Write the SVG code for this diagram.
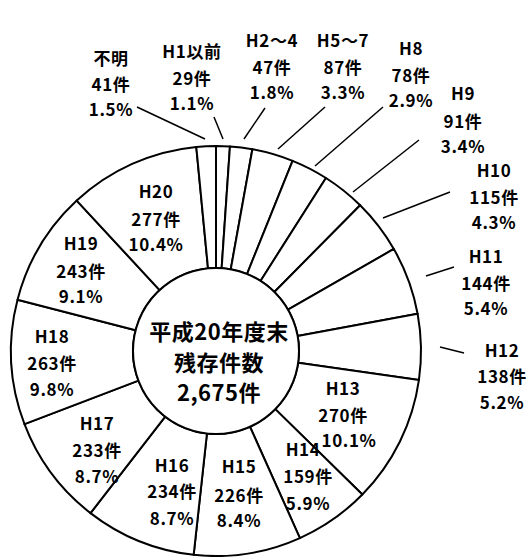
<svg xmlns="http://www.w3.org/2000/svg" width="530" height="557" viewBox="0 0 530 557">
<style>
.seg{fill:#fff;stroke:#000;stroke-width:2;stroke-linejoin:round}
.hub{fill:#fff;stroke:#000;stroke-width:2}
.lead{stroke:#000;stroke-width:1.5;fill:none}
text{font-family:"Noto Sans CJK JP","Noto Sans",sans-serif;font-weight:bold;font-size:17px;fill:#000;text-anchor:middle;letter-spacing:0.6px}
.ctr{font-size:22px;font-weight:bold;letter-spacing:0.5px}
</style>
<rect width="530" height="557" fill="#fff"/>
<g id="h1">
<path class="seg" d="M216,146 A205,205 0 0 1 229.95,146.48 L221.65,268.19 A83,83 0 0 0 216,268 Z"/>
<text x="192" y="58">H1以前</text><text x="192" y="85">29件</text><text x="192" y="110">1.1%</text>
</g>
<g id="h2-4">
<path class="seg" d="M229.95,146.48 A205,205 0 0 1 252.40,149.26 L230.74,269.32 A83,83 0 0 0 221.65,268.19 Z"/>
<text x="272" y="47">H2〜4</text><text x="272" y="74">47件</text><text x="272" y="99">1.8%</text>
</g>
<g id="h5-7">
<path class="seg" d="M252.40,149.26 A205,205 0 0 1 292.58,160.84 L247.01,274.01 A83,83 0 0 0 230.74,269.32 Z"/>
<text x="343" y="47">H5〜7</text><text x="343" y="74">87件</text><text x="343" y="99">3.3%</text>
</g>
<g id="h8">
<path class="seg" d="M292.58,160.84 A205,205 0 0 1 325.95,177.97 L260.52,280.94 A83,83 0 0 0 247.01,274.01 Z"/>
<text x="411" y="55">H8</text><text x="411" y="82">78件</text><text x="411" y="107">2.9%</text>
</g>
<g id="h9">
<path class="seg" d="M325.95,177.97 A205,205 0 0 1 360.15,205.23 L274.36,291.98 A83,83 0 0 0 260.52,280.94 Z"/>
<text x="463" y="100">H9</text><text x="463" y="128">91件</text><text x="463" y="153">3.4%</text>
</g>
<g id="h10">
<path class="seg" d="M360.15,205.23 A205,205 0 0 1 393.82,248.99 L287.99,309.70 A83,83 0 0 0 274.36,291.98 Z"/>
<text x="494" y="177">H10</text><text x="494" y="204">115件</text><text x="494" y="229">4.3%</text>
</g>
<g id="h11">
<path class="seg" d="M393.82,248.99 A205,205 0 0 1 417.60,313.77 L297.62,335.92 A83,83 0 0 0 287.99,309.70 Z"/>
<text x="486" y="263">H11</text><text x="486" y="290">144件</text><text x="486" y="315">5.4%</text>
</g>
<g id="h12">
<path class="seg" d="M417.60,313.77 A205,205 0 0 1 418.95,379.91 L298.17,362.71 A83,83 0 0 0 297.62,335.92 Z"/>
<text x="502" y="357">H12</text><text x="502" y="383">138件</text><text x="502" y="409">5.2%</text>
</g>
<g id="h13">
<path class="seg" d="M418.95,379.91 A205,205 0 0 1 362.36,494.55 L275.26,409.12 A83,83 0 0 0 298.17,362.71 Z"/>
<text x="343" y="395">H13</text><text x="343" y="422">270件</text><text x="349" y="447">10.1%</text>
</g>
<g id="h14">
<path class="seg" d="M362.36,494.55 A205,205 0 0 1 299.89,538.05 L249.97,426.73 A83,83 0 0 0 275.26,409.12 Z"/>
<text x="303" y="456">H14</text><text x="308" y="483">159件</text><text x="308" y="510">5.9%</text>
</g>
<g id="h15">
<path class="seg" d="M299.89,538.05 A205,205 0 0 1 193.65,554.78 L206.95,433.51 A83,83 0 0 0 249.97,426.73 Z"/>
<text x="239" y="473">H15</text><text x="239" y="502">226件</text><text x="239" y="527">8.4%</text>
</g>
<g id="h16">
<path class="seg" d="M193.65,554.78 A205,205 0 0 1 90.50,513.10 L165.19,416.63 A83,83 0 0 0 206.95,433.51 Z"/>
<text x="172" y="472">H16</text><text x="172" y="498">234件</text><text x="172" y="525">8.7%</text>
</g>
<g id="h17">
<path class="seg" d="M90.50,513.10 A205,205 0 0 1 24.48,424.11 L138.46,380.60 A83,83 0 0 0 165.19,416.63 Z"/>
<text x="97" y="430">H17</text><text x="97" y="457">233件</text><text x="97" y="483">8.7%</text>
</g>
<g id="h18">
<path class="seg" d="M24.48,424.11 A205,205 0 0 1 17.53,299.67 L135.64,330.22 A83,83 0 0 0 138.46,380.60 Z"/>
<text x="52" y="343">H18</text><text x="52" y="370">263件</text><text x="52" y="396">9.8%</text>
</g>
<g id="h19">
<path class="seg" d="M17.53,299.67 A205,205 0 0 1 76.72,200.58 L159.61,290.10 A83,83 0 0 0 135.64,330.22 Z"/>
<text x="81" y="250">H19</text><text x="81" y="278">243件</text><text x="81" y="303">9.1%</text>
</g>
<g id="h20">
<path class="seg" d="M76.72,200.58 A205,205 0 0 1 196.29,146.95 L208.02,268.38 A83,83 0 0 0 159.61,290.10 Z"/>
<text x="156" y="198">H20</text><text x="156" y="226">277件</text><text x="156" y="251">10.4%</text>
</g>
<g id="unknown">
<path class="seg" d="M196.29,146.95 A205,205 0 0 1 216,146 L216,268 A83,83 0 0 0 208.02,268.38 Z"/>
<text x="111" y="65">不明</text><text x="111" y="91">41件</text><text x="111" y="116">1.5%</text>
</g>
<g id="total">
<circle class="hub" cx="216" cy="351" r="83"/>
<text class="ctr" x="219" y="340">平成20年度末</text>
<text class="ctr" x="219" y="371">残存件数</text>
<text class="ctr" x="219" y="401">2,675件</text>
</g>
<g id="connectors">
<line class="lead" x1="137" y1="107" x2="205" y2="139"/>
<line class="lead" x1="214" y1="117" x2="223" y2="139"/>
<line class="lead" x1="265" y1="108" x2="244" y2="139"/>
<line class="lead" x1="325" y1="107" x2="278" y2="149"/>
<line class="lead" x1="383" y1="107" x2="315" y2="166"/>
<line class="lead" x1="419" y1="140" x2="353" y2="192"/>
<line class="lead" x1="450" y1="192" x2="383" y2="218"/>
<line class="lead" x1="454" y1="267" x2="426" y2="276"/>
<line class="lead" x1="440" y1="347" x2="464" y2="353"/>
</g>
</svg>
